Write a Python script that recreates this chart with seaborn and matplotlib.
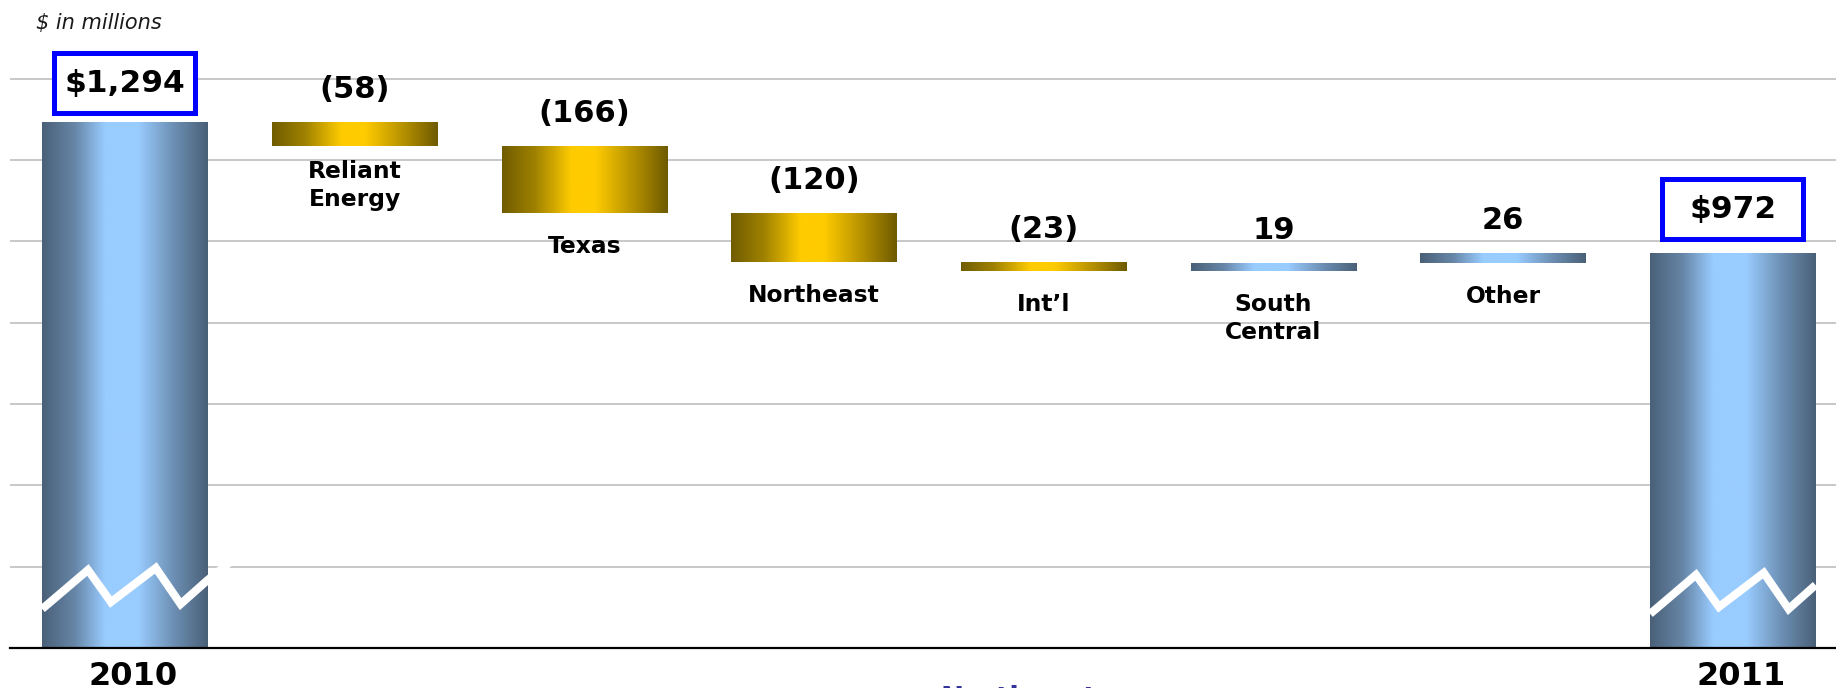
import numpy as np
import pandas as pd
import matplotlib
matplotlib.use("Agg")
import matplotlib.pyplot as plt
import matplotlib.transforms as mtransforms
from matplotlib.colors import LinearSegmentedColormap
from matplotlib.patches import Rectangle
import seaborn as sns

# Operating income bridge, $ in millions
categories = ["2010", "Reliant\nEnergy", "Texas", "Northeast", "Int\u2019l",
              "South\nCentral", "Other", "2011"]
start_total = 1294
changes = [-58, -166, -120, -23, 19, 26]
end_total = 972
axis_labels = ["2010", "", "", "", "", "", "", "2011"]
grid_values = [0, 200, 400, 600, 800, 1000, 1200, 1400]

sns.set_style("white")
plt.rcParams["font.family"] = ["DejaVu Sans"]
plt.rcParams["text.color"] = "black"

# extents of each floating bar
running = np.cumsum([start_total] + changes)
lows, highs, kinds = [0], [start_total], ["total"]
for prev, cur in zip(running[:-1], running[1:]):
    lows.append(min(prev, cur))
    highs.append(max(prev, cur))
    kinds.append("down" if cur < prev else "up")
lows.append(0)
highs.append(end_total)
kinds.append("total")

df = pd.DataFrame({"category": categories,
                   "low": lows,
                   "size": np.subtract(highs, lows),
                   "kind": kinds})

fig = plt.figure(figsize=(18.36, 6.88), dpi=100)
ax = fig.add_axes([10 / 1836, 40 / 688, 1826 / 1836, 648 / 688])

sns.barplot(data=df, x="category", y="size", order=categories,
            bottom=df["low"].to_numpy(), width=0.72, errorbar=None,
            color="#99CCFF", ax=ax)

steel = LinearSegmentedColormap.from_list(
    "steel", [(0.0, "#4A6078"), (0.2, "#6787A8"), (0.38, "#99CCFF"),
              (0.58, "#99CCFF"), (0.8, "#6C8EB2"), (1.0, "#4A6078")])
gold = LinearSegmentedColormap.from_list(
    "gold", [(0.0, "#705C00"), (0.2, "#A08200"), (0.42, "#FFCC00"),
             (0.56, "#FFCC00"), (0.8, "#B38F00"), (1.0, "#6E5A00")])

ramp = np.linspace(0, 1, 256)[None, :]
bars = list(ax.patches)
for patch, kind in zip(bars, df["kind"]):
    x0, y0 = patch.get_x(), patch.get_y()
    w, h = patch.get_width(), patch.get_height()
    cmap = gold if kind == "down" else steel
    im = ax.imshow(ramp, cmap=cmap, extent=[x0, x0 + w, y0, y0 + h],
                   aspect="auto", interpolation="bicubic", zorder=2)
    im.set_clip_path(patch)
    patch.set_facecolor("none")
    patch.set_edgecolor("none")

ymax = 1594
ax.set_ylim(0, ymax)
ax.set_xlim(-0.5, 7.449)
upx = ymax / 648.0          # data units per pixel, vertical

# gridlines and baseline
ax.set_yticks(grid_values)
ax.set_yticklabels([])
ax.yaxis.grid(True, color="#C8C8C8", linewidth=1.4)
ax.set_axisbelow(True)
for side in ("left", "right", "top"):
    ax.spines[side].set_visible(False)
ax.spines["bottom"].set_color("black")
ax.spines["bottom"].set_linewidth(1.6)
ax.spines["bottom"].set_zorder(6)
ax.set_xticks(range(len(categories)))
ax.set_xticklabels(axis_labels, fontsize=23, fontweight="bold", color="black")
ax.tick_params(axis="both", length=0)
ax.tick_params(axis="x", pad=9.5, labelcolor="black")
shift = mtransforms.ScaledTranslation(8 / 100, 0, fig.dpi_scale_trans)
for lab in ax.get_xticklabels():
    lab.set_transform(lab.get_transform() + shift)
ax.set_xlabel("")
ax.set_ylabel("")

# zig-zag break marks across the total bars
zig_x = np.array([0.0, 0.277, 0.416, 0.687, 0.837, 1.0, 1.145])
zig_y = np.array([96, 192, 113, 197, 108, 167, 214])
for patch, drop, reach in zip([bars[0], bars[-1]], [0, -12], [7, 6]):
    x0, w = patch.get_x(), patch.get_width()
    ax.plot(x0 + zig_x[:reach] * w, zig_y[:reach] + drop, color="white",
            linewidth=5.8, solid_joinstyle="miter", solid_capstyle="butt",
            zorder=3)

# boxed totals
for idx, value, gap in [(0, start_total, 6), (len(bars) - 1, end_total, 11)]:
    patch = bars[idx]
    cx = patch.get_x() + patch.get_width() / 2
    bw, bh = 141 / 229.7, 60 * upx
    by = value + (gap + 2.5) * upx
    ax.add_patch(Rectangle((cx - bw / 2, by), bw, bh, facecolor="white",
                           edgecolor="#0000FF", linewidth=3.6, zorder=4))
    ax.text(cx, by + bh / 2, f"${value:,}", ha="center", va="center",
            fontsize=22.5, fontweight="bold", color="black", zorder=5)

# change values above and segment names below each floating bar
for i, delta in enumerate(changes, start=1):
    patch = bars[i]
    cx = patch.get_x() + patch.get_width() / 2
    text = f"({abs(delta)})" if delta < 0 else f"{delta}"
    ax.text(cx, highs[i] + 24 * upx, text, ha="center", va="baseline",
            fontsize=22, fontweight="bold", color="black", zorder=5)
    name_gap = 14 if "\n" in categories[i] and delta < 0 else 22
    ax.text(cx, lows[i] - name_gap * upx, categories[i], ha="center",
            va="top", fontsize=16.8, fontweight="bold", color="black",
            linespacing=1.28, zorder=5)

fig.text(36 / 1836, 1 - 23 / 688, "$ in millions", ha="left", va="center",
         fontsize=15, fontstyle="italic", color="#1a1a1a")
fig.text(1019 / 1836, 1 - 685 / 688, "Northeast", ha="center", va="top",
         fontsize=20, fontweight="bold", color="#333399")

fig.savefig("out.png", dpi=100)
